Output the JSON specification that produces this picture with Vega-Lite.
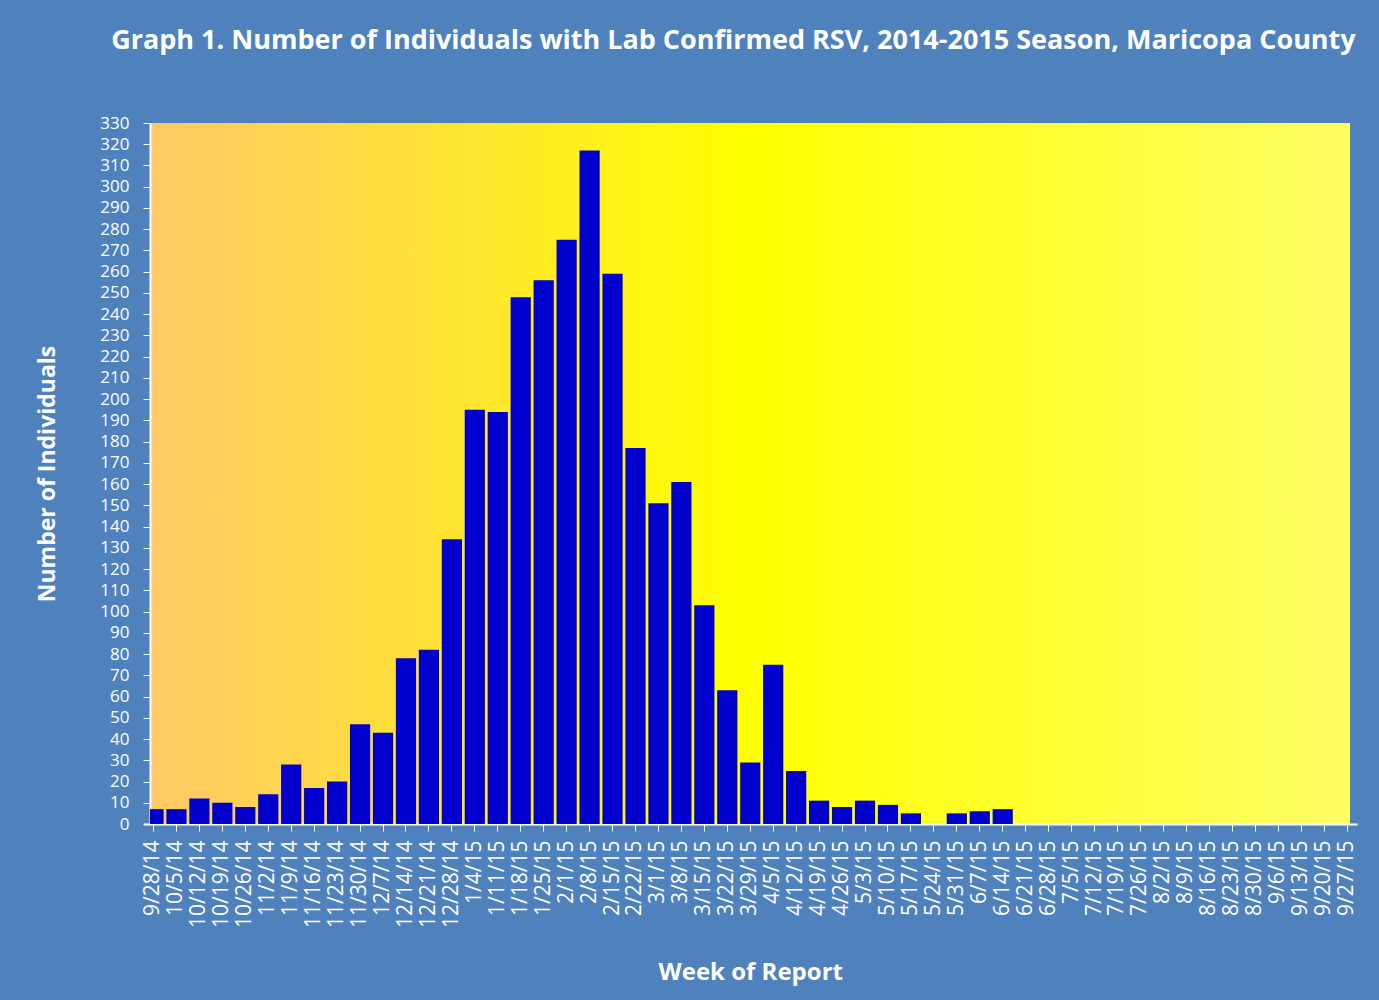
{
  "$schema": "https://vega.github.io/schema/vega-lite/v6.json",
  "width": 1200,
  "height": 701,
  "autosize": "none",
  "padding": {"left": 150, "top": 123, "right": 29, "bottom": 176},
  "background": "#4f81bd",
  "title": {
    "text": "Graph 1. Number of Individuals  with Lab Confirmed RSV, 2014-2015 Season, Maricopa  County",
    "anchor": "end",
    "color": "white",
    "font": "Open Sans",
    "fontSize": 27,
    "fontWeight": "bold",
    "offset": 59,
    "dx": -8
  },
  "config": {
    "view": {
      "stroke": null,
      "fill": {
        "gradient": "linear",
        "x1": 0, "y1": 0, "x2": 1, "y2": 0,
        "stops": [
          {"offset": 0, "color": "#ffc966"},
          {"offset": 0.5, "color": "#ffff00"},
          {"offset": 1, "color": "#ffff66"}
        ]
      }
    },
    "axis": {
      "labelColor": "white",
      "titleColor": "white",
      "domainColor": "white",
      "tickColor": "white",
      "labelFont": "Open Sans",
      "titleFont": "Open Sans",
      "grid": false
    }
  },
  "data": {
    "values": [
      {"week": "9/28/14", "count": 7},
      {"week": "10/5/14", "count": 7},
      {"week": "10/12/14", "count": 12},
      {"week": "10/19/14", "count": 10},
      {"week": "10/26/14", "count": 8},
      {"week": "11/2/14", "count": 14},
      {"week": "11/9/14", "count": 28},
      {"week": "11/16/14", "count": 17},
      {"week": "11/23/14", "count": 20},
      {"week": "11/30/14", "count": 47},
      {"week": "12/7/14", "count": 43},
      {"week": "12/14/14", "count": 78},
      {"week": "12/21/14", "count": 82},
      {"week": "12/28/14", "count": 134},
      {"week": "1/4/15", "count": 195},
      {"week": "1/11/15", "count": 194},
      {"week": "1/18/15", "count": 248},
      {"week": "1/25/15", "count": 256},
      {"week": "2/1/15", "count": 275},
      {"week": "2/8/15", "count": 317},
      {"week": "2/15/15", "count": 259},
      {"week": "2/22/15", "count": 177},
      {"week": "3/1/15", "count": 151},
      {"week": "3/8/15", "count": 161},
      {"week": "3/15/15", "count": 103},
      {"week": "3/22/15", "count": 63},
      {"week": "3/29/15", "count": 29},
      {"week": "4/5/15", "count": 75},
      {"week": "4/12/15", "count": 25},
      {"week": "4/19/15", "count": 11},
      {"week": "4/26/15", "count": 8},
      {"week": "5/3/15", "count": 11},
      {"week": "5/10/15", "count": 9},
      {"week": "5/17/15", "count": 5},
      {"week": "5/24/15", "count": 0},
      {"week": "5/31/15", "count": 5},
      {"week": "6/7/15", "count": 6},
      {"week": "6/14/15", "count": 7},
      {"week": "6/21/15", "count": 0},
      {"week": "6/28/15", "count": 0},
      {"week": "7/5/15", "count": 0},
      {"week": "7/12/15", "count": 0},
      {"week": "7/19/15", "count": 0},
      {"week": "7/26/15", "count": 0},
      {"week": "8/2/15", "count": 0},
      {"week": "8/9/15", "count": 0},
      {"week": "8/16/15", "count": 0},
      {"week": "8/23/15", "count": 0},
      {"week": "8/30/15", "count": 0},
      {"week": "9/6/15", "count": 0},
      {"week": "9/13/15", "count": 0},
      {"week": "9/20/15", "count": 0},
      {"week": "9/27/15", "count": 0}
    ]
  },
  "mark": {"type": "bar", "color": "#0000cc", "clip": true},
  "encoding": {
    "x": {
      "field": "week",
      "type": "ordinal",
      "sort": null,
      "scale": {"paddingInner": 0.12, "paddingOuter": 0, "range": [-6.6, 1207.1]},
      "axis": {
        "title": "Week of Report",
        "titleFontSize": 24,
        "titleFontWeight": "bold",
        "titlePadding": 33,
        "labelAngle": -90,
        "labelFontSize": 21,
        "labelPadding": 9,
        "tickSize": 7,
        "domainWidth": 2
      }
    },
    "y": {
      "field": "count",
      "type": "quantitative",
      "scale": {"domain": [0, 330], "nice": false},
      "axis": {
        "title": "Number of Individuals",
        "titleFontSize": 23,
        "titleFontWeight": "bold",
        "titlePadding": 40,
        "values": [0,10,20,30,40,50,60,70,80,90,100,110,120,130,140,150,160,170,180,190,200,210,220,230,240,250,260,270,280,290,300,310,320,330],
        "labelFontSize": 17,
        "labelPadding": 14,
        "tickSize": 7,
        "domainWidth": 2
      }
    }
  }
}
